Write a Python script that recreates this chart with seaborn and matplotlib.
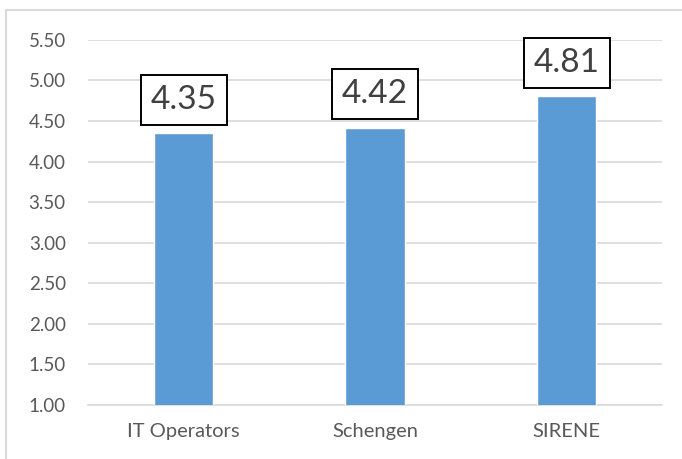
import matplotlib
matplotlib.use("Agg")
import matplotlib.pyplot as plt
import seaborn as sns
import pandas as pd
from matplotlib.patches import Rectangle

categories = ["IT Operators", "Schengen", "SIRENE"]
scores = [4.35, 4.42, 4.81]
yticks = [1.00, 1.50, 2.00, 2.50, 3.00, 3.50, 4.00, 4.50, 5.00, 5.50]

sns.set_theme(style="white")
plt.rcParams["font.family"] = ["Lato", "DejaVu Sans"]

df = pd.DataFrame({"cat": categories, "score": scores})

fig = plt.figure(figsize=(6.82, 4.59), dpi=100)
ax = fig.add_axes([0.129, 0.1176, 0.842, 0.7955])

sns.barplot(data=df, x="cat", y="score", color="#5B9BD5", width=0.31,
            saturation=1, ax=ax, zorder=3)

ax.set_ylim(1.0, 5.5)
ax.set_yticks(yticks)
ax.set_yticklabels([f"{v:.2f}" for v in yticks])
ax.grid(axis="y", color="#D9D9D9", linewidth=1.2, zorder=0)
ax.set_axisbelow(True)
for s in ["top", "right", "left"]:
    ax.spines[s].set_visible(False)
ax.spines["bottom"].set_color("#D9D9D9")
ax.spines["bottom"].set_linewidth(1.2)
ax.tick_params(axis="y", length=0, labelsize=13.5, colors="#595959", pad=16)
ax.tick_params(axis="x", length=0, labelsize=14.5, colors="#595959", pad=13)
ax.set_xlabel("")
ax.set_ylabel("")

for i, v in enumerate(scores):
    ax.annotate(f"{v:.2f}", xy=(i, v), xytext=(0, 13), textcoords="offset points",
                ha="center", va="bottom", fontsize=24, color="#404040",
                bbox=dict(boxstyle="square,pad=0.3", fc="white", ec="black", lw=1.4))

# outer chart border (cropped on right and bottom)
fig.add_artist(Rectangle((6 / 682, -0.05), 1.1, 1 - 10 / 459 + 0.05,
                         transform=fig.transFigure, fill=False,
                         ec="#D9D9D9", lw=1.5))

fig.savefig("out.png", dpi=100)
